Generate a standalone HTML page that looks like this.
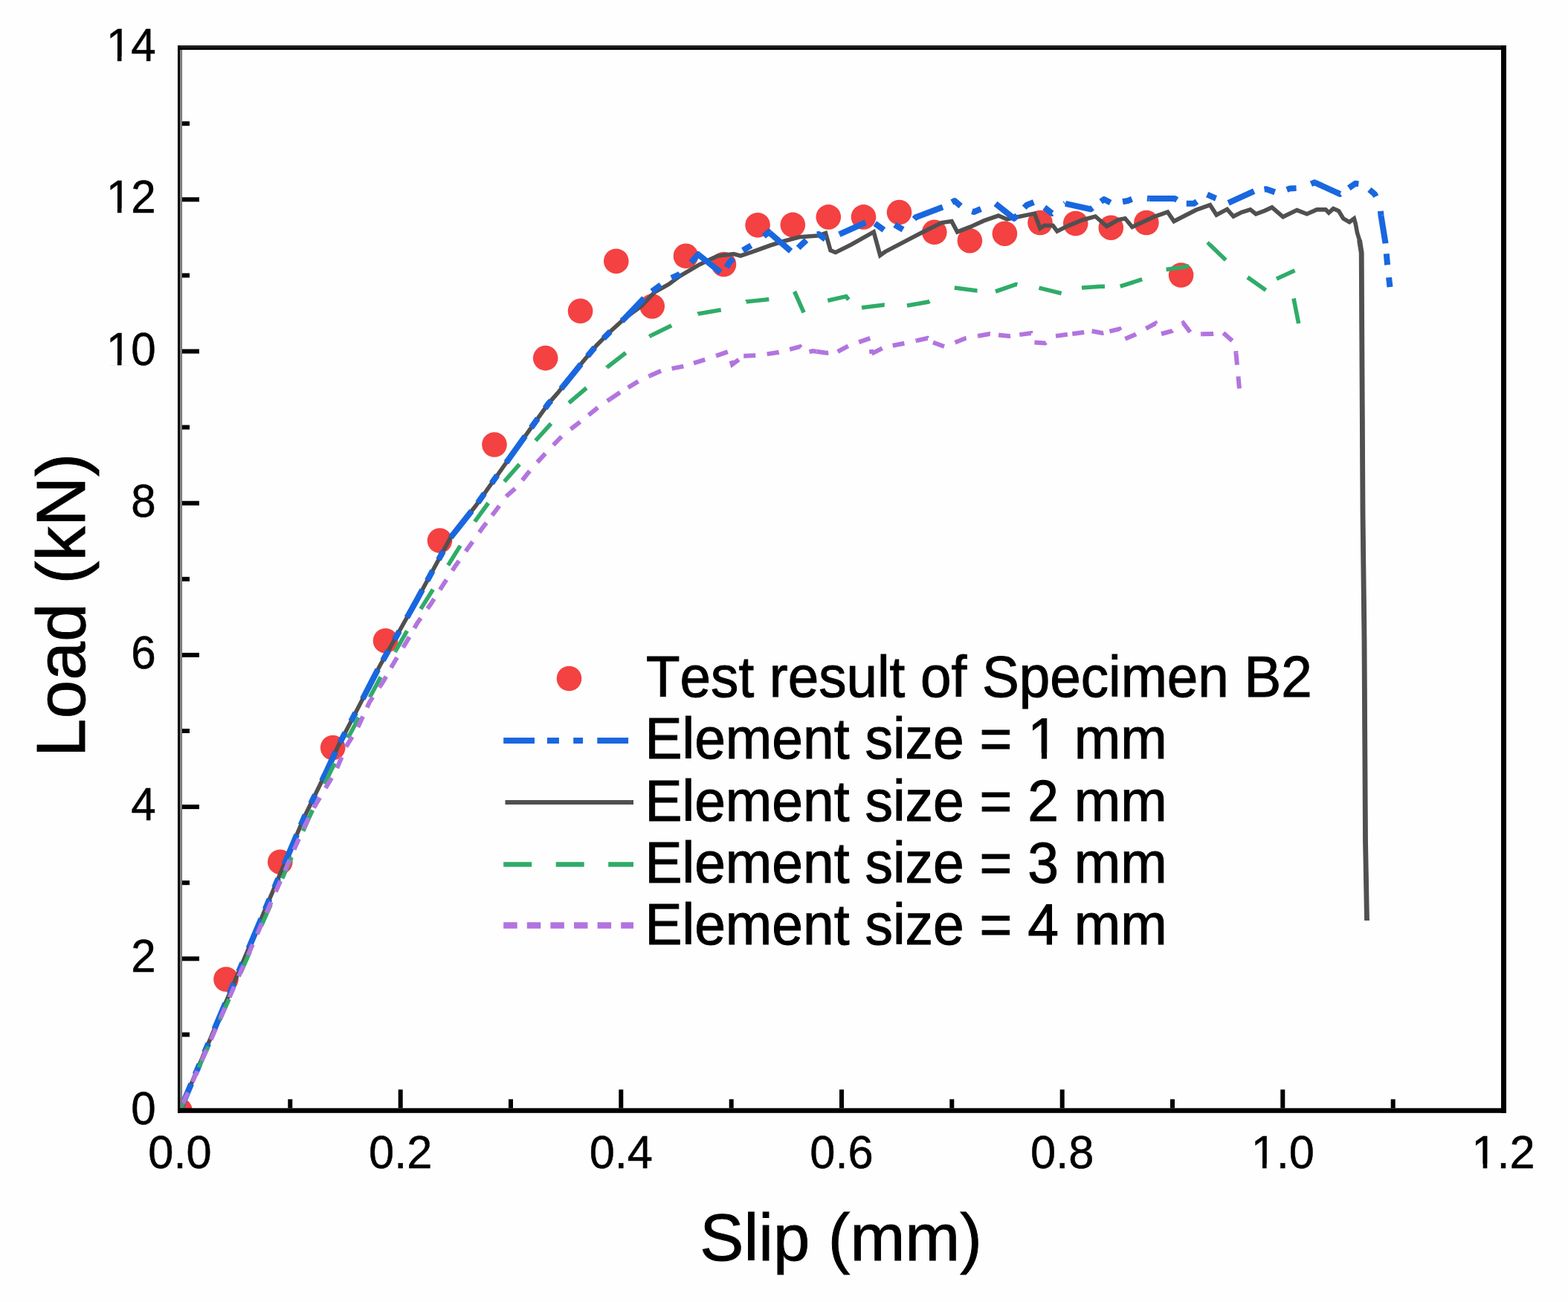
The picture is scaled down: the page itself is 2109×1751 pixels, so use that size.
<!DOCTYPE html>
<html><head><meta charset="utf-8"><title>Load-slip curves</title>
<style>
html,body{margin:0;padding:0;background:#fefefe;}
svg{display:block;}
text{font-family:"Liberation Sans",Arial,sans-serif;fill:#000;font-kerning:none;}
</style></head><body>
<svg width="2109" height="1751" viewBox="0 0 2109 1751">
<rect x="0" y="0" width="2109" height="1751" fill="#fefefe"/>
<defs><clipPath id="plotclip"><rect x="242" y="64" width="1780" height="1429.5"/></clipPath></defs>

<g clip-path="url(#plotclip)">
<circle cx="242" cy="1493.5" r="16.8" fill="#f44141"/>
<circle cx="304" cy="1317" r="16.8" fill="#f44141"/>
<circle cx="376.8" cy="1159.2" r="16.8" fill="#f44141"/>
<circle cx="447.7" cy="1005.5" r="16.8" fill="#f44141"/>
<circle cx="518.5" cy="861.7" r="16.8" fill="#f44141"/>
<circle cx="591.5" cy="727.1" r="16.8" fill="#f44141"/>
<circle cx="665" cy="598" r="16.8" fill="#f44141"/>
<circle cx="733.7" cy="481.6" r="16.8" fill="#f44141"/>
<circle cx="780.6" cy="418.3" r="16.8" fill="#f44141"/>
<circle cx="828.8" cy="351.2" r="16.8" fill="#f44141"/>
<circle cx="877.2" cy="411.9" r="16.8" fill="#f44141"/>
<circle cx="922.5" cy="344.3" r="16.8" fill="#f44141"/>
<circle cx="973.5" cy="355.5" r="16.8" fill="#f44141"/>
<circle cx="1019.1" cy="302.7" r="16.8" fill="#f44141"/>
<circle cx="1066.3" cy="302.4" r="16.8" fill="#f44141"/>
<circle cx="1114.3" cy="291.9" r="16.8" fill="#f44141"/>
<circle cx="1161.5" cy="291.9" r="16.8" fill="#f44141"/>
<circle cx="1209.5" cy="285.6" r="16.8" fill="#f44141"/>
<circle cx="1256.8" cy="312.3" r="16.8" fill="#f44141"/>
<circle cx="1304.4" cy="323.7" r="16.8" fill="#f44141"/>
<circle cx="1351.4" cy="314.2" r="16.8" fill="#f44141"/>
<circle cx="1399" cy="299.5" r="16.8" fill="#f44141"/>
<circle cx="1446.7" cy="300.5" r="16.8" fill="#f44141"/>
<circle cx="1494.3" cy="306.2" r="16.8" fill="#f44141"/>
<circle cx="1541.9" cy="299.5" r="16.8" fill="#f44141"/>
<circle cx="1588.6" cy="370" r="16.8" fill="#f44141"/>
<polyline points="242.0,1493.5 409.0,1099.5 439.5,1036.7 455.0,1003.0 474.0,966.7 510.0,897.0 560.0,808.0 606.0,723.0 640.0,680.0 686.0,615.0 737.6,542.8 750.0,528.7 783.7,486.8 802.4,464.4 821.0,445.8 839.7,428.6 862.0,412.2 880.7,392.8 899.3,382.4 914.0,371.5 941.0,355.7 955.0,349.0 965.0,344.3 987.0,341.5 996.0,344.0 1010.0,339.3 1036.0,330.0 1055.5,324.0 1075.3,318.7 1099.7,317.1 1110.5,313.5 1117.0,336.7 1123.8,339.5 1144.8,329.0 1175.2,311.9 1183.8,343.3 1190.5,338.6 1238.0,313.8 1266.7,299.5 1280.0,297.6 1287.6,311.9 1304.8,305.2 1323.8,296.7 1342.9,290.0 1354.3,294.8 1367.6,291.9 1391.4,287.1 1399.0,307.1 1404.8,303.3 1416.2,303.3 1421.9,311.0 1435.2,304.3 1456.2,295.7 1473.3,291.0 1488.6,304.3 1503.8,295.7 1513.3,293.8 1522.9,305.2 1551.4,291.9 1570.5,285.2 1579.0,297.6 1608.6,282.4 1627.6,275.7 1636.2,289.0 1650.5,281.4 1659.0,291.0 1669.8,285.6 1681.7,281.9 1689.2,287.8 1701.1,283.4 1710.8,278.9 1725.7,291.6 1744.4,282.6 1757.8,287.8 1771.2,281.9 1783.1,281.9 1787.2,286.2 1793.4,280.6 1800.6,283.7 1806.8,294.0 1815.0,298.6 1821.3,294.0 1823.3,301.2 1825.4,312.6 1828.5,322.9 1831.2,340.0 1831.5,400.0 1833.0,690.0 1835.0,860.0 1836.5,1130.0 1838.5,1238.0" fill="none" stroke="#505050" stroke-width="5.6" stroke-linejoin="miter"/>
<polyline points="1828.5,322.9 1831.2,340 1831.5,400 1833,690 1835,860 1836.5,1130 1838.5,1238" fill="none" stroke="#505050" stroke-width="6.8"/>
<g fill="none" stroke="#1967df" stroke-width="8" stroke-dasharray="38 14 15 17 13 21" stroke-linejoin="round">
<polyline points="242.0,1493.5 288.4,1384.0" stroke-dashoffset="117.1"/>
<polyline points="288.4,1384.0 336.4,1270.8" stroke-dashoffset="0.0"/>
<polyline points="336.4,1270.8 384.4,1157.5" stroke-dashoffset="0.0"/>
<polyline points="384.4,1157.5 409.0,1099.5 435.2,1045.6" stroke-dashoffset="0.0"/>
<polyline points="435.2,1045.6 439.5,1036.7 455.0,1003.0 474.0,966.7 490.8,934.1" stroke-dashoffset="0.0"/>
<polyline points="490.8,934.1 510.0,897.0 549.7,826.4" stroke-dashoffset="0.0"/>
<polyline points="549.7,826.4 560.0,808.0 606.0,723.0 610.8,717.0" stroke-dashoffset="0.0"/>
<polyline points="610.8,717.0 640.0,680.0 684.3,617.4" stroke-dashoffset="0.0"/>
<polyline points="684.3,617.4 686.0,615.0 737.6,542.8 750.0,528.7 757.6,519.3" stroke-dashoffset="0.0"/>
<polyline points="757.6,519.3 783.7,486.8 802.4,464.4 821.0,445.8 839.7,428.6 839.9,428.4" stroke-dashoffset="0.0"/>
<polyline points="839.9,428.4 871.0,396.0 887.0,384.6 900.0,375.3 913.5,369.0 926.0,357.0 939.0,342.0 939.6,342.5" stroke-dashoffset="0.0"/>
<polyline points="939.6,342.5 972.0,368.5 981.0,353.0 993.0,340.5 1006.0,332.6 1018.0,325.7 1034.0,312.0 1035.0,312.9" stroke-dashoffset="0.0"/>
<polyline points="1035.0,312.9 1066.7,340.5 1076.0,331.0 1086.7,321.0 1101.0,314.8 1112.0,323.3 1129.5,314.8" stroke-dashoffset="0.0"/>
<polyline points="1129.5,314.8 1163.8,299.5 1172.0,297.0 1190.0,310.0 1203.0,302.0 1215.0,309.0 1232.0,292.0 1232.4,291.9" stroke-dashoffset="0.0"/>
<polyline points="1232.4,291.9 1270.5,277.6 1284.0,270.0 1296.0,280.5 1310.0,285.0 1325.0,278.6 1339.0,273.8" stroke-dashoffset="0.0"/>
<polyline points="1339.0,273.8 1364.0,293.8 1381.0,275.7 1393.0,271.0 1403.0,277.6 1415.0,287.0 1433.0,273.8" stroke-dashoffset="0.0"/>
<polyline points="1433.0,273.8 1467.0,281.4 1485.0,268.0 1496.0,273.8 1517.0,270.0 1529.0,265.2 1545.7,267.0" stroke-dashoffset="0.0"/>
<polyline points="1545.7,267.0 1546.0,267.0 1580.0,267.0 1591.0,273.8 1606.0,273.8 1623.0,261.4 1634.0,266.2 1652.0,273.0 1652.2,272.9" stroke-dashoffset="0.0"/>
<polyline points="1652.2,272.9 1688.0,256.5 1703.0,254.3 1718.0,259.5 1735.0,253.5 1751.0,252.8 1768.0,245.3 1768.2,245.4" stroke-dashoffset="0.0"/>
<polyline points="1768.2,245.4 1802.5,261.0 1823.0,246.8 1834.0,248.3 1849.0,261.0 1856.0,275.0 1857.5,289.8" stroke-dashoffset="0.0"/>
<polyline points="1857.5,289.8 1857.5,290.0 1863.5,327.0 1866.0,355.0 1870.0,390.5" stroke-dashoffset="0.0"/>
</g>
<g fill="none" stroke="#2fac68" stroke-width="5.6" stroke-dasharray="31 38.5">
<polyline points="242.0,1493.5 416.0,1099.0 445.0,1036.7 464.0,1000.0 468.0,992.5" stroke-dashoffset="6.3"/>
<polyline points="468.0,992.5 497.4,937.7" stroke-dashoffset="0.0"/>
<polyline points="497.4,937.7 513.6,907.5 532.1,875.3" stroke-dashoffset="0.0"/>
<polyline points="532.1,875.3 548.4,847.0 565.9,819.0" stroke-dashoffset="0.0"/>
<polyline points="565.9,819.0 585.1,788.3 602.7,760.2" stroke-dashoffset="0.0"/>
<polyline points="602.7,760.2 621.8,729.5 638.6,701.6" stroke-dashoffset="0.0"/>
<polyline points="638.6,701.6 639.6,700.0 660.2,671.8 678.3,647.7" stroke-dashoffset="0.0"/>
<polyline points="678.3,647.7 702.4,620.2 720.4,592.7" stroke-dashoffset="0.0"/>
<polyline points="720.4,592.7 744.5,566.0 765.1,541.9 765.2,541.8" stroke-dashoffset="0.0"/>
<polyline points="765.2,541.8 793.5,517.8 816.8,493.8 817.2,493.5" stroke-dashoffset="0.0"/>
<polyline points="817.2,493.5 847.7,469.7 875.4,451.5" stroke-dashoffset="0.0"/>
<polyline points="875.4,451.5 875.6,451.3 909.0,435.0 939.0,422.0 939.2,422.0" stroke-dashoffset="0.0"/>
<polyline points="939.2,422.0 973.6,416.0 1003.5,405.8" stroke-dashoffset="0.0"/>
<polyline points="1003.5,405.8 1003.7,405.7 1038.0,402.2 1068.6,392.0" stroke-dashoffset="0.0"/>
<polyline points="1068.6,392.0 1082.0,422.4 1113.3,404.3" stroke-dashoffset="0.0"/>
<polyline points="1113.3,404.3 1138.0,398.6 1150.0,414.0 1159.0,413.8" stroke-dashoffset="0.0"/>
<polyline points="1159.0,413.8 1189.5,410.0 1220.0,411.0" stroke-dashoffset="0.0"/>
<polyline points="1220.0,411.0 1248.6,406.0 1283.8,387.0" stroke-dashoffset="0.0"/>
<polyline points="1283.8,387.0 1314.3,391.0 1339.0,392.0" stroke-dashoffset="0.0"/>
<polyline points="1339.0,392.0 1366.7,382.4 1382.0,386.0 1397.0,387.0 1397.5,387.1" stroke-dashoffset="0.0"/>
<polyline points="1397.5,387.1 1428.6,394.8 1455.0,387.0" stroke-dashoffset="0.0"/>
<polyline points="1455.0,387.0 1480.0,385.2 1506.7,385.2" stroke-dashoffset="0.0"/>
<polyline points="1506.7,385.2 1542.0,373.8 1568.6,362.4" stroke-dashoffset="0.0"/>
<polyline points="1568.6,362.4 1602.0,357.6 1626.0,328.0 1626.4,328.3" stroke-dashoffset="0.0"/>
<polyline points="1626.4,328.3 1651.0,352.0 1678.0,372.9" stroke-dashoffset="0.0"/>
</g>
<polyline points="1678.0,372.9 1702.6,390.3" fill="none" stroke="#2fac68" stroke-width="5.6"/>
<polyline points="1717.0,375.0 1741.5,363.8" fill="none" stroke="#2fac68" stroke-width="5.6"/>
<polyline points="1740.0,401.4 1746.7,435.0" fill="none" stroke="#2fac68" stroke-width="5.6"/>
<g fill="none" stroke="#b274df" stroke-width="6" stroke-dasharray="16 15.5">
<polyline points="242.0,1493.5 258.9,1455.0" stroke-dashoffset="20.9"/>
<polyline points="258.9,1455.0 271.3,1426.6" stroke-dashoffset="0.0"/>
<polyline points="271.3,1426.6 283.7,1398.2" stroke-dashoffset="0.0"/>
<polyline points="283.7,1398.2 296.2,1369.8" stroke-dashoffset="0.0"/>
<polyline points="296.2,1369.8 308.6,1341.4" stroke-dashoffset="0.0"/>
<polyline points="308.6,1341.4 321.0,1313.0" stroke-dashoffset="0.0"/>
<polyline points="321.0,1313.0 333.5,1284.6" stroke-dashoffset="0.0"/>
<polyline points="333.5,1284.6 345.9,1256.2" stroke-dashoffset="0.0"/>
<polyline points="345.9,1256.2 358.3,1227.8" stroke-dashoffset="0.0"/>
<polyline points="358.3,1227.8 370.8,1199.4" stroke-dashoffset="0.0"/>
<polyline points="370.8,1199.4 383.2,1171.0" stroke-dashoffset="0.0"/>
<polyline points="383.2,1171.0 395.6,1142.6" stroke-dashoffset="0.0"/>
<polyline points="395.6,1142.6 408.0,1114.3 408.1,1114.2" stroke-dashoffset="0.0"/>
<polyline points="408.1,1114.2 422.1,1086.5" stroke-dashoffset="0.0"/>
<polyline points="422.1,1086.5 422.5,1085.7 437.9,1059.9" stroke-dashoffset="0.0"/>
<polyline points="437.9,1059.9 451.7,1036.7 453.3,1033.0" stroke-dashoffset="0.0"/>
<polyline points="453.3,1033.0 465.5,1004.5" stroke-dashoffset="0.0"/>
<polyline points="465.5,1004.5 466.0,1003.3 480.5,980.0 481.4,978.0" stroke-dashoffset="0.0"/>
<polyline points="481.4,978.0 493.7,951.5" stroke-dashoffset="0.0"/>
<polyline points="493.7,951.5 497.0,944.2 511.0,923.3" stroke-dashoffset="0.0"/>
<polyline points="511.0,923.3 515.4,916.7 526.0,898.0" stroke-dashoffset="0.0"/>
<polyline points="526.0,898.0 530.0,891.0 542.5,870.3" stroke-dashoffset="0.0"/>
<polyline points="542.5,870.3 546.6,863.5 557.3,844.7" stroke-dashoffset="0.0"/>
<polyline points="557.3,844.7 561.3,837.8 575.0,818.6" stroke-dashoffset="0.0"/>
<polyline points="575.0,818.6 579.6,812.1 591.8,793.1" stroke-dashoffset="0.0"/>
<polyline points="591.8,793.1 596.1,786.4 608.4,767.4" stroke-dashoffset="0.0"/>
<polyline points="608.4,767.4 612.7,760.7 626.4,741.5" stroke-dashoffset="0.0"/>
<polyline points="626.4,741.5 631.0,735.0 644.7,715.9" stroke-dashoffset="0.0"/>
<polyline points="644.7,715.9 649.4,709.4 661.9,693.1" stroke-dashoffset="0.0"/>
<polyline points="661.9,693.1 667.7,685.5 680.9,667.5" stroke-dashoffset="0.0"/>
<polyline points="680.9,667.5 695.5,654.6 702.5,645.8" stroke-dashoffset="0.0"/>
<polyline points="702.5,645.8 715.3,629.7 722.7,621.6" stroke-dashoffset="0.0"/>
<polyline points="722.7,621.6 735.9,607.3 744.3,598.5" stroke-dashoffset="0.0"/>
<polyline points="744.3,598.5 757.4,584.9 767.6,577.1" stroke-dashoffset="0.0"/>
<polyline points="767.6,577.1 783.2,565.1 791.7,558.2" stroke-dashoffset="0.0"/>
<polyline points="791.7,558.2 806.4,546.2 820.6,536.7" stroke-dashoffset="0.0"/>
<polyline points="820.6,536.7 834.8,527.3 844.8,521.2" stroke-dashoffset="0.0"/>
<polyline points="844.8,521.2 861.5,511.0 874.4,505.3" stroke-dashoffset="0.0"/>
<polyline points="874.4,505.3 890.7,498.1 903.6,495.6" stroke-dashoffset="0.0"/>
<polyline points="903.6,495.6 919.4,492.6 933.0,488.3" stroke-dashoffset="0.0"/>
<polyline points="933.0,488.3 949.6,483.1 963.7,478.3" stroke-dashoffset="0.0"/>
<polyline points="963.7,478.3 979.7,472.8 983.5,485.1" stroke-dashoffset="0.0"/>
<polyline points="983.5,485.1 985.0,490.0 1000.2,478.8" stroke-dashoffset="0.0"/>
<polyline points="1000.2,478.8 1000.3,478.8 1018.4,478.0 1031.9,476.1" stroke-dashoffset="0.0"/>
<polyline points="1031.9,476.1 1047.6,473.8 1062.2,469.9" stroke-dashoffset="0.0"/>
<polyline points="1062.2,469.9 1076.0,466.2 1082.0,474.8 1093.0,472.0 1098.4,472.8" stroke-dashoffset="0.0"/>
<polyline points="1098.4,472.8 1112.0,474.8 1126.7,472.8" stroke-dashoffset="0.0"/>
<polyline points="1126.7,472.8 1141.0,465.2 1155.2,460.2" stroke-dashoffset="0.0"/>
<polyline points="1155.2,460.2 1170.5,454.8 1172.4,475.7" stroke-dashoffset="0.0"/>
<polyline points="1172.4,475.7 1189.5,467.0 1200.7,464.8" stroke-dashoffset="0.0"/>
<polyline points="1200.7,464.8 1218.0,461.4 1232.7,458.1" stroke-dashoffset="0.0"/>
<polyline points="1232.7,458.1 1247.6,454.8 1255.0,460.5" stroke-dashoffset="0.0"/>
<polyline points="1255.0,460.5 1270.5,466.2 1284.8,460.5" stroke-dashoffset="0.0"/>
<polyline points="1284.8,460.5 1299.0,454.8 1316.1,451.7" stroke-dashoffset="0.0"/>
<polyline points="1316.1,451.7 1331.4,449.0 1343.1,450.4" stroke-dashoffset="0.0"/>
<polyline points="1343.1,450.4 1357.0,452.0 1371.3,450.1" stroke-dashoffset="0.0"/>
<polyline points="1371.3,450.1 1386.7,448.0 1391.0,460.5 1391.4,460.5" stroke-dashoffset="0.0"/>
<polyline points="1391.4,460.5 1405.7,461.4 1420.0,451.9" stroke-dashoffset="0.0"/>
<polyline points="1420.0,451.9 1442.3,449.0" stroke-dashoffset="0.0"/>
<polyline points="1442.3,449.0 1457.0,447.0 1468.6,445.2" stroke-dashoffset="0.0"/>
<polyline points="1468.6,445.2 1482.9,448.0 1492.4,445.7" stroke-dashoffset="0.0"/>
<polyline points="1492.4,445.7 1505.7,442.4 1513.3,455.7" stroke-dashoffset="0.0"/>
<polyline points="1513.3,455.7 1526.7,450.0 1541.3,441.9" stroke-dashoffset="0.0"/>
<polyline points="1541.3,441.9 1554.3,434.8 1562.0,449.0" stroke-dashoffset="0.0"/>
<polyline points="1562.0,449.0 1576.2,445.2 1591.1,434.5" stroke-dashoffset="0.0"/>
<polyline points="1591.1,434.5 1591.4,434.3 1602.9,449.5 1616.2,449.3" stroke-dashoffset="0.0"/>
<polyline points="1616.2,449.3 1632.0,449.0 1645.2,447.6 1645.4,447.7" stroke-dashoffset="0.0"/>
<polyline points="1645.4,447.7 1661.0,461.4 1662.4,474.8" stroke-dashoffset="0.0"/>
<polyline points="1662.4,474.8 1664.0,491.0 1665.5,506.6" stroke-dashoffset="0.0"/>
<polyline points="1665.5,506.6 1667.0,523.0" stroke-dashoffset="0.0"/>
</g>
</g>
<g>
<rect x="239" y="61" width="1787" height="3.2" fill="#222"/>
<rect x="239" y="64" width="1787" height="3" fill="#000"/>
<rect x="239" y="61" width="3.3" height="1436" fill="#000"/>
<rect x="242.3" y="67" width="2.8" height="1423" fill="#7c7c7c"/>
<rect x="2019" y="61" width="7" height="1436" fill="#000"/>
<rect x="239" y="1490.3" width="1787" height="6.5" fill="#000"/>
<rect x="245" y="1388.4" width="10" height="6" fill="#000"/>
<rect x="245" y="1286.3" width="23" height="6" fill="#000"/>
<rect x="245" y="1184.2" width="10" height="6" fill="#000"/>
<rect x="245" y="1082.1" width="23" height="6" fill="#000"/>
<rect x="245" y="980.0" width="10" height="6" fill="#000"/>
<rect x="245" y="877.9" width="23" height="6" fill="#000"/>
<rect x="245" y="775.8" width="10" height="6" fill="#000"/>
<rect x="245" y="673.7" width="23" height="6" fill="#000"/>
<rect x="245" y="571.6" width="10" height="6" fill="#000"/>
<rect x="245" y="469.5" width="23" height="6" fill="#000"/>
<rect x="245" y="367.4" width="10" height="6" fill="#000"/>
<rect x="245" y="265.3" width="23" height="6" fill="#000"/>
<rect x="245" y="163.2" width="10" height="6" fill="#000"/>
<rect x="387.3" y="1478.3" width="6" height="12" fill="#000"/>
<rect x="535.7" y="1465.3" width="6" height="25" fill="#000"/>
<rect x="684.0" y="1478.3" width="6" height="12" fill="#000"/>
<rect x="832.3" y="1465.3" width="6" height="25" fill="#000"/>
<rect x="980.7" y="1478.3" width="6" height="12" fill="#000"/>
<rect x="1129.0" y="1465.3" width="6" height="25" fill="#000"/>
<rect x="1277.3" y="1478.3" width="6" height="12" fill="#000"/>
<rect x="1425.7" y="1465.3" width="6" height="25" fill="#000"/>
<rect x="1574.0" y="1478.3" width="6" height="12" fill="#000"/>
<rect x="1722.3" y="1465.3" width="6" height="25" fill="#000"/>
<rect x="1870.7" y="1478.3" width="6" height="12" fill="#000"/>
</g>
<text transform="translate(209.8,1511.5) scale(0.97,1.03)" font-size="62" text-anchor="end" stroke="#000" stroke-width="0.5">0</text>
<text transform="translate(209.8,1307.3) scale(0.97,1.03)" font-size="62" text-anchor="end" stroke="#000" stroke-width="0.5">2</text>
<text transform="translate(209.8,1103.1) scale(0.97,1.03)" font-size="62" text-anchor="end" stroke="#000" stroke-width="0.5">4</text>
<text transform="translate(209.8,898.9) scale(0.97,1.03)" font-size="62" text-anchor="end" stroke="#000" stroke-width="0.5">6</text>
<text transform="translate(209.8,694.7) scale(0.97,1.03)" font-size="62" text-anchor="end" stroke="#000" stroke-width="0.5">8</text>
<text transform="translate(209.8,490.5) scale(0.97,1.03)" font-size="62" text-anchor="end" stroke="#000" stroke-width="0.5">10</text>
<text transform="translate(209.8,286.3) scale(0.97,1.03)" font-size="62" text-anchor="end" stroke="#000" stroke-width="0.5">12</text>
<text transform="translate(209.8,82.1) scale(0.97,1.03)" font-size="62" text-anchor="end" stroke="#000" stroke-width="0.5">14</text>
<text transform="translate(242.0,1571.3) scale(0.99,1.02)" font-size="62" text-anchor="middle" stroke="#000" stroke-width="0.5">0.0</text>
<text transform="translate(538.7,1571.3) scale(0.99,1.02)" font-size="62" text-anchor="middle" stroke="#000" stroke-width="0.5">0.2</text>
<text transform="translate(835.3,1571.3) scale(0.99,1.02)" font-size="62" text-anchor="middle" stroke="#000" stroke-width="0.5">0.4</text>
<text transform="translate(1132.0,1571.3) scale(0.99,1.02)" font-size="62" text-anchor="middle" stroke="#000" stroke-width="0.5">0.6</text>
<text transform="translate(1428.7,1571.3) scale(0.99,1.02)" font-size="62" text-anchor="middle" stroke="#000" stroke-width="0.5">0.8</text>
<text transform="translate(1725.3,1571.3) scale(0.99,1.02)" font-size="62" text-anchor="middle" stroke="#000" stroke-width="0.5">1.0</text>
<text transform="translate(2022.0,1571.3) scale(0.99,1.02)" font-size="62" text-anchor="middle" stroke="#000" stroke-width="0.5">1.2</text>
<text transform="translate(1131,1695)" font-size="88.7" text-anchor="middle" stroke="#000" stroke-width="0.9">Slip (mm)</text>
<text transform="translate(114.4,814) rotate(-90)" font-size="93" text-anchor="middle" stroke="#000" stroke-width="0.9">Load (kN)</text>
<circle cx="765.5" cy="912.5" r="16.8" fill="#f44141"/>
<line x1="677.2" y1="996" x2="852" y2="996" stroke="#1967df" stroke-width="8" stroke-dasharray="41.8 16.9 16 19.3 12.8 19.3"/>
<line x1="679.5" y1="1079" x2="852" y2="1079" stroke="#505050" stroke-width="6"/>
<line x1="677.2" y1="1162.5" x2="852" y2="1162.5" stroke="#2fac68" stroke-width="6.5" stroke-dasharray="38 32.5"/>
<line x1="677.2" y1="1244.6" x2="852" y2="1244.6" stroke="#b274df" stroke-width="8.5" stroke-dasharray="18.5 13.1"/>
<text transform="translate(869,937.3) scale(0.995,1.045)" font-size="75" stroke="#000" stroke-width="1">Test result of Specimen B2</text>
<text transform="translate(867.5,1020) scale(1,1.045)" font-size="75" stroke="#000" stroke-width="1">Element size = 1 mm</text>
<text transform="translate(867.5,1103.8) scale(1,1.045)" font-size="75" stroke="#000" stroke-width="1">Element size = 2 mm</text>
<text transform="translate(867.5,1186.5) scale(1,1.045)" font-size="75" stroke="#000" stroke-width="1">Element size = 3 mm</text>
<text transform="translate(867.5,1269.5) scale(1,1.045)" font-size="75" stroke="#000" stroke-width="1">Element size = 4 mm</text>
<rect x="146.2" y="484.5" width="11.7" height="7.3" fill="#fefefe"/>
<rect x="163.5" y="484.5" width="11.2" height="7.3" fill="#fefefe"/>
<rect x="146.2" y="280.3" width="11.7" height="7.3" fill="#fefefe"/>
<rect x="163.5" y="280.3" width="11.2" height="7.3" fill="#fefefe"/>
<rect x="146.2" y="76.1" width="11.7" height="7.3" fill="#fefefe"/>
<rect x="163.5" y="76.1" width="11.2" height="7.3" fill="#fefefe"/>
<rect x="1686.1" y="1565.3" width="11.9" height="7.2" fill="#fefefe"/>
<rect x="1703.6" y="1565.3" width="11.4" height="7.2" fill="#fefefe"/>
<rect x="1982.8" y="1565.3" width="11.9" height="7.2" fill="#fefefe"/>
<rect x="2000.3" y="1565.3" width="11.4" height="7.2" fill="#fefefe"/>
<rect x="1386.5" y="1012.6" width="14.4" height="8.9" fill="#fefefe"/>
<rect x="1408.1" y="1012.6" width="13.8" height="8.9" fill="#fefefe"/>
</svg></body></html>
